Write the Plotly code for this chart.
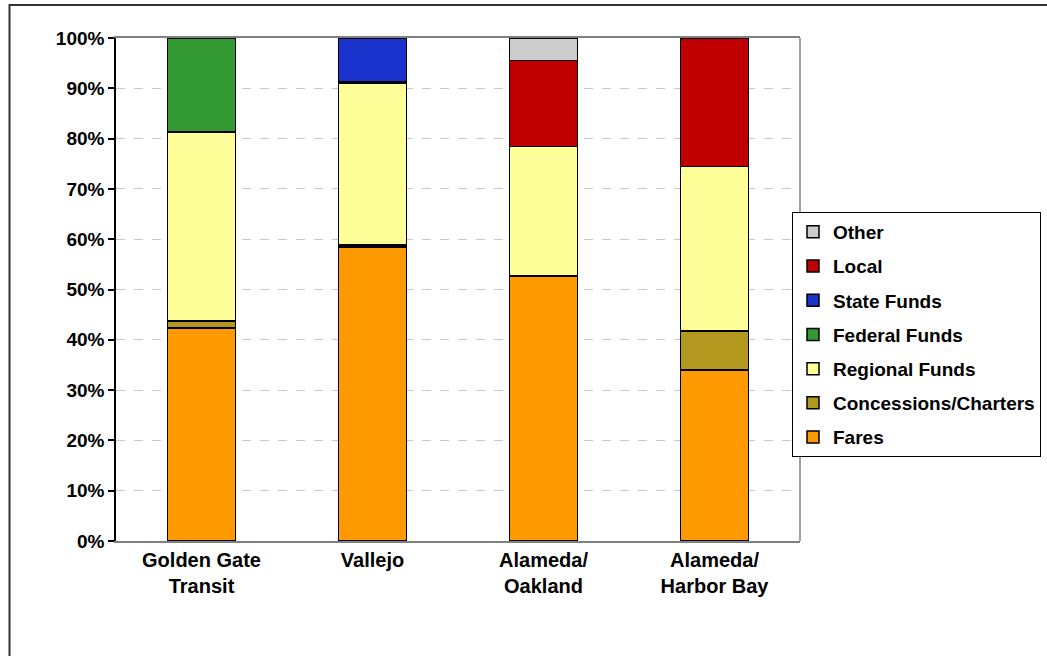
import plotly.graph_objects as go

categories = ["Golden Gate<br>Transit", "Vallejo", "Alameda/<br>Oakland", "Alameda/<br>Harbor Bay"]
series_names = ["Fares", "Concessions/Charters", "Regional Funds", "Federal Funds", "State Funds", "Local", "Other"]
fares = [42.3, 58.5, 52.7, 34.0]
concessions = [1.4, 0.3, 0.0, 7.8]
regional = [37.6, 32.2, 25.7, 32.7]
federal = [18.7, 0.3, 0.0, 0.0]
state = [0.0, 8.7, 0.0, 0.0]
local = [0.0, 0.0, 17.1, 25.5]
other = [0.0, 0.0, 4.5, 0.0]
colors = ["#FF9900", "#B3981F", "#FFFF99", "#339933", "#1A33CC", "#C00000", "#CCCCCC"]

values = [fares, concessions, regional, federal, state, local, other]

FONT = "Liberation Sans, Arial, sans-serif"

fig = go.Figure()
for i, (name, vals, col) in enumerate(zip(series_names, values, colors)):
    fig.add_trace(go.Bar(
        x=categories, y=vals, name=name, legendgroup=name,
        legendrank=1000 - i,
        marker=dict(color=col, line=dict(color="black", width=1.5)),
        width=0.4,
    ))

W, H = 1047, 656
L, R, T, B = 116, 800, 38, 541
pw, ph = R - L, B - T

fig.update_layout(
    width=W, height=H,
    margin=dict(l=L, r=W - R, t=T, b=H - B, autoexpand=False),
    barmode="stack",
    paper_bgcolor="white", plot_bgcolor="white",
    font=dict(family=FONT, size=19, color="black", weight="bold"),
    showlegend=True,
    legend=dict(
        x=(792 - L) / pw, y=(B - 212) / ph, xanchor="left", yanchor="top",
        bordercolor="black", borderwidth=1, bgcolor="white",
        traceorder="grouped", tracegroupgap=6.5,
        font=dict(family=FONT, size=19, color="black", weight="bold"),
        itemwidth=30,
    ),
    xaxis=dict(
        showline=True, linecolor="#808080", linewidth=1.5, mirror=True,
        ticks="", showgrid=False,
        tickfont=dict(family=FONT, size=20, color="black", weight="bold"),
    ),
    yaxis=dict(
        range=[0, 100], dtick=10, ticksuffix="%",
        showline=True, linecolor="black", linewidth=1.5,
        ticks="outside", ticklen=6, tickcolor="black", tickwidth=1.5,
        showgrid=True, gridcolor="#C8C8C8", griddash="dash", gridwidth=1,
        zeroline=False,
        tickfont=dict(family=FONT, size=19, color="black", weight="bold"),
    ),
    shapes=[
        dict(type="line", xref="paper", yref="paper", x0=1, x1=1, y0=0, y1=1,
             line=dict(color="#808080", width=1.5)),
        dict(type="rect", xref="paper", yref="paper",
             x0=(9.5 - L) / pw, x1=(1060 - L) / pw,
             y0=(B - 670) / ph, y1=(B - 5) / ph,
             line=dict(color="#333333", width=2), fillcolor="rgba(0,0,0,0)", layer="below"),
    ],
)

fig.write_html("out.html")
